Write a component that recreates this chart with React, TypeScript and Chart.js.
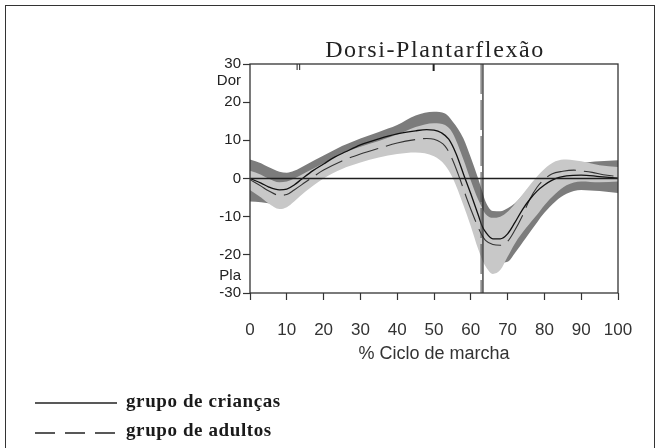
import React, { useEffect, useRef } from "react";
import { Chart, registerables } from "chart.js";

Chart.register(...registerables);

// ---- data ----
const bandX = [0, 3, 5, 8, 10, 12, 15, 20, 25, 30, 35, 40, 45, 50, 53, 55, 58, 60, 62, 63, 64, 66, 68, 70, 72, 75, 78, 80, 83, 86, 90, 95, 100];
const darkUpper = [5, 4, 3, 1.8, 1.5, 2, 3.5, 6, 8.5, 10.5, 12.2, 14, 16.5, 17.5, 17, 15, 10.5, 5.5, 0, -3, -6, -8.5, -8.6, -7.8, -6.5, -3.5, -1, 0.5, 2, 3, 4, 4.5, 4.8];
const darkLower = [-6, -6.2, -6.5, -7, -5.5, -4, -2, 1, 3.5, 5.5, 7, 8.5, 9.5, 9, 7, 4, -3, -8, -13, -15.5, -18, -21, -22, -21.8, -19.5, -15.5, -11.5, -9, -6, -4, -3, -3.3, -3.8];
const lightUpper = [2, 1, 0, -1, -0.8, 0, 1.5, 4, 6.5, 8.3, 9.8, 11.5, 13.5, 14.5, 14, 12, 5, -0.5, -5.5, -7.5, -9.3, -10.3, -10, -8.7, -6.6, -3, 0.5, 2.5, 4.5, 5, 4.5, 3.5, 3];
const lightLower = [-3, -5, -6.5, -8, -7.5, -6, -3.5, 0, 2.5, 4.2, 5.5, 6.4, 6.8, 5.8, 3.5, 0.3, -7, -12.5, -18.5, -21, -23, -25, -24, -20.5, -17, -13, -9.5, -7, -4, -1.8, -0.8, -1, -0.8];

const childX = [0, 3, 5, 8, 10, 12, 14, 17, 20, 23, 26, 30, 35, 40, 45, 48, 50, 52, 54, 56, 58, 60, 62, 63, 64, 66, 68, 70, 72, 74, 76, 78, 80, 82, 84, 86, 90, 95, 100];
const childMean = [0, -1.2, -2.2, -3, -2.8, -1.7, -0.2, 2, 3.8, 5.6, 7, 8.8, 10.4, 11.7, 12.5, 12.8, 12.7, 12, 10.3, 6.5, 1.2, -4, -9.5, -12.3, -14, -15.8, -15.8, -14.5, -11.5, -8.2, -5.5, -3.3, -1.7, -0.5, 0.3, 0.7, 0.9, 0.5, 0.1];

const adultX = [0, 3, 5, 8, 10, 12, 15, 18, 20, 25, 30, 35, 40, 45, 48, 50, 53, 55, 57, 59, 61, 62, 63, 64, 66, 68, 70, 72, 74, 76, 78, 80, 82, 85, 88, 90, 93, 96, 100];
const adultMean = [-0.3, -2, -3.2, -4.4, -4.2, -3, -1, 1, 2.2, 4.6, 6.4, 7.9, 9.3, 10.2, 10.5, 10.3, 8.5, 5, 0, -5.5, -10.5, -12.8, -14.8, -16.2, -17.3, -17.5, -16.5, -13.5, -9.8, -5.5, -2.3, -0.2, 1.2, 1.9, 2.2, 2, 1.6, 1, 0.5];

const xTicks = [0, 10, 20, 30, 40, 50, 60, 70, 80, 90, 100];
const yTickValues = [30, 25.5, 20, 10, 0, -10, -20, -25.5, -30];
const yTickLabels = ["30", "Dor", "20", "10", "0", "-10", "-20", "Pla", "-30"];
const yNoTickMark = [25.5, -25.5];

const childEventX = 63.3; // solid vertical line
const adultEventX = 62.8; // dashed vertical line
const topMarksThin = [12.8, 13.5];
const topMarksThick = [49.9];

const titleText = "Dorsi-Plantarflexão";
const xTitle = "% Ciclo de marcha";
const legendChild = "grupo de crianças";
const legendAdult = "grupo de adultos";

const DARK = "rgb(124,124,124)";
const LIGHT = "rgb(200,200,200)";
const INK = "#1e1e1e";

const pts = (xs: number[], ys: number[]) => xs.map((x, i) => ({ x, y: ys[i] }));

const extras = {
  id: "extras",
  afterDatasetsDraw(chart: any) {
    const { ctx, chartArea } = chart;
    const xs = chart.scales.x;
    const ys = chart.scales.y;
    const { left, right, top, bottom } = chartArea;
    ctx.save();
    // zero line
    ctx.strokeStyle = INK;
    ctx.lineWidth = 1.3;
    ctx.beginPath();
    const y0 = ys.getPixelForValue(0);
    ctx.moveTo(left, y0);
    ctx.lineTo(right, y0);
    ctx.stroke();
    // vertical event lines
    const xa = xs.getPixelForValue(adultEventX);
    ctx.strokeStyle = "#444";
    ctx.lineWidth = 1;
    ctx.setLineDash([30, 6]);
    ctx.beginPath();
    ctx.moveTo(xa, top);
    ctx.lineTo(xa, bottom);
    ctx.stroke();
    ctx.setLineDash([]);
    const xc = xs.getPixelForValue(childEventX);
    ctx.strokeStyle = INK;
    ctx.lineWidth = 1.2;
    ctx.beginPath();
    ctx.moveTo(xc, top);
    ctx.lineTo(xc, bottom);
    ctx.stroke();
    // top marks
    ctx.lineWidth = 1;
    topMarksThin.forEach((v) => {
      const px = xs.getPixelForValue(v);
      ctx.beginPath();
      ctx.moveTo(px, top);
      ctx.lineTo(px, top + 6);
      ctx.stroke();
    });
    ctx.lineWidth = 2;
    topMarksThick.forEach((v) => {
      const px = xs.getPixelForValue(v);
      ctx.beginPath();
      ctx.moveTo(px, top);
      ctx.lineTo(px, top + 7);
      ctx.stroke();
    });
    // frame
    ctx.strokeStyle = "#333";
    ctx.lineWidth = 1.3;
    ctx.strokeRect(left, top, right - left, bottom - top);
    // title
    ctx.fillStyle = "#222";
    ctx.font = '24px "Liberation Serif", "Times New Roman", serif';
    (ctx as any).letterSpacing = "1.6px";
    ctx.textAlign = "center";
    ctx.textBaseline = "alphabetic";
    ctx.fillText(titleText, (left + right) / 2 + 1, 57);
    (ctx as any).letterSpacing = "0px";
    ctx.restore();
  },
};

export default function App() {
  const ref = useRef<HTMLCanvasElement | null>(null);
  useEffect(() => {
    if (!ref.current) return;
    const chart = new Chart(ref.current, {
      type: "line",
      data: {
        datasets: [
          { data: pts(bandX, darkUpper), fill: "+1", backgroundColor: DARK, borderWidth: 0, pointRadius: 0, cubicInterpolationMode: "monotone", order: 10 } as any,
          { data: pts(bandX, darkLower), fill: false, borderWidth: 0, pointRadius: 0, cubicInterpolationMode: "monotone", order: 10 } as any,
          { data: pts(bandX, lightUpper), fill: "+1", backgroundColor: LIGHT, borderWidth: 0, pointRadius: 0, cubicInterpolationMode: "monotone", order: 8 } as any,
          { data: pts(bandX, lightLower), fill: false, borderWidth: 0, pointRadius: 0, cubicInterpolationMode: "monotone", order: 8 } as any,
          { data: pts(adultX, adultMean), fill: false, borderColor: "#333", borderWidth: 1.1, borderDash: [30, 8], pointRadius: 0, cubicInterpolationMode: "monotone", order: 2 } as any,
          { data: pts(childX, childMean), fill: false, borderColor: "#111", borderWidth: 1.3, pointRadius: 0, cubicInterpolationMode: "monotone", order: 1 } as any,
        ],
      },
      options: {
        animation: false,
        responsive: false,
        maintainAspectRatio: false,
        layout: { padding: { left: 200, right: 45, top: 64, bottom: 75 } },
        plugins: { legend: { display: false }, tooltip: { enabled: false }, title: { display: false } },
        scales: {
          x: {
            type: "linear",
            min: 0,
            max: 100,
            afterFit: (s: any) => { s.height = 80; },
            afterBuildTicks: (s: any) => { s.ticks = xTicks.map((v) => ({ value: v })); },
            border: { display: false },
            grid: { drawOnChartArea: false, drawTicks: true, tickLength: 7, tickColor: "#333", tickWidth: 1.2 },
            ticks: { padding: 20, color: "#333", font: { family: "'Liberation Sans', Arial, sans-serif", size: 17 }, maxRotation: 0, autoSkip: false },
            title: { display: true, text: xTitle, color: "#333", font: { family: "'Liberation Sans', Arial, sans-serif", size: 18 }, padding: { top: 0, bottom: 8 } },
          },
          y: {
            type: "linear",
            min: -30,
            max: 30,
            afterFit: (s: any) => { s.width = 50; },
            afterBuildTicks: (s: any) => { s.ticks = yTickValues.map((v) => ({ value: v })); },
            border: { display: false },
            grid: {
              drawOnChartArea: false,
              drawTicks: true,
              tickLength: 7,
              tickWidth: 1.2,
              tickColor: (c: any) => (yNoTickMark.includes(c.tick?.value) ? "rgba(0,0,0,0)" : "#333"),
            },
            ticks: {
              padding: 2,
              color: "#222",
              font: { family: "'Liberation Sans', Arial, sans-serif", size: 15 },
              autoSkip: false,
              callback: (v: any) => {
                const i = yTickValues.indexOf(Number(v));
                return i >= 0 ? yTickLabels[i] : "";
              },
            },
          },
        },
      } as any,
      plugins: [extras],
    });
    return () => chart.destroy();
  }, []);

  const legendFont: React.CSSProperties = {
    position: "absolute",
    fontFamily: '"Liberation Serif", "Times New Roman", serif',
    fontWeight: "bold",
    fontSize: 19,
    letterSpacing: "0.6px",
    lineHeight: "19px",
    color: "#1a1a1a",
    whiteSpace: "nowrap",
  };

  return (
    <div style={{ position: "absolute", left: 0, top: 0, width: 663, height: 448, overflow: "hidden", background: "#fff" }}>
      <div style={{ position: "absolute", left: 5, top: 5, width: 650, height: 470, border: "1.5px solid #333", boxSizing: "border-box" }} />
      <canvas ref={ref} width={663} height={448} style={{ position: "absolute", left: 0, top: 0, width: 663, height: 448 }} />
      <svg width={663} height={448} style={{ position: "absolute", left: 0, top: 0 }}>
        <line x1={35} y1={403} x2={117} y2={403} stroke="#222" strokeWidth={1.5} />
        <line x1={35} y1={433} x2={117} y2={433} stroke="#222" strokeWidth={1.5} strokeDasharray="20 10" />
      </svg>
      <div style={{ ...legendFont, left: 126, top: 391 }}>{legendChild}</div>
      <div style={{ ...legendFont, left: 126, top: 420 }}>{legendAdult}</div>
    </div>
  );
}
